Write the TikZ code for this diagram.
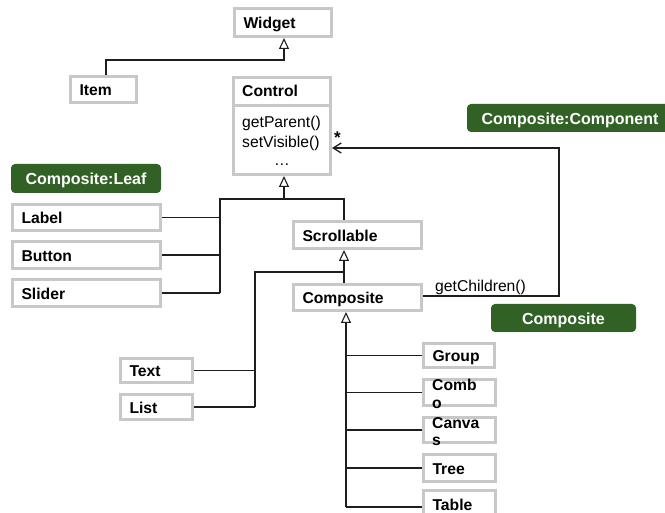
\documentclass[tikz,border=0pt]{standalone}
\usepackage{fontspec}
\setmainfont{Liberation Sans}
\usetikzlibrary{arrows.meta}

\definecolor{boxgrey}{RGB}{200,200,200}
\definecolor{tagGreen}{RGB}{50,97,38}
\definecolor{ink}{RGB}{30,30,30}

\tikzset{
  umlbox/.style={draw=boxgrey, line width=3pt, fill=white,
    font=\bfseries\fontsize{15.7}{18}\selectfont,
    inner xsep=9pt, inner ysep=0pt, align=left,
    text height=13pt, text depth=0pt},
  boxtext/.style={font=\bfseries\fontsize{15.7}{17.5}\selectfont,
    inner sep=0pt, align=left},
  plain/.style={font=\fontsize{15.7}{18}\selectfont, inner sep=0pt},
  tag/.style={fill=tagGreen, rounded corners=4pt, text=white,
    font=\bfseries\fontsize{16}{18}\selectfont,
    text height=13pt, text depth=0pt, inner sep=0pt},
  wire/.style={draw=ink, line width=1.3pt},
  gen/.style={wire, -{Triangle[open, length=11pt, width=10pt, line width=1.1pt]}},
  nav/.style={wire, -{Straight Barb[length=8pt, width=10pt]}},
}

% class box given by its outer corners (x1,y1) (x2,y2), y counted downwards
\newcommand\classbox[6]{%
  \pgfmathsetmacro\cbW{#4-#2-3}%
  \pgfmathsetmacro\cbH{#5-#3-3}%
  \pgfmathsetmacro\cbT{\cbW-18}%
  \node[umlbox, minimum width=\cbW pt, minimum height=\cbH pt, text width=\cbT pt]
    (#1) at ({(#2+#4)/2},{(#3+#5)/2}) {#6};}

\begin{document}
\begin{tikzpicture}[x=1pt, y=-1pt]
  \useasboundingbox (0,0) rectangle (665,513);
  \clip (0,0) rectangle (665,513);
  \fill[white] (0,0) rectangle (665,513);

  % classes
  \classbox{widget}{233}{7}{333}{38}{Widget}
  \classbox{item}{69}{75}{138}{104}{Item}
  \classbox{control}{232}{76}{332}{176}{}
  \classbox{label}{11}{203}{162}{232}{Label}
  \classbox{button}{11}{240}{162}{270}{Button}
  \classbox{slider}{11}{278}{162}{308}{Slider}
  \classbox{scrollable}{292}{220}{423}{250}{Scrollable}
  \classbox{composite}{292}{283}{423}{312}{Composite}
  \classbox{textbox}{119}{357}{194}{384}{Text}
  \classbox{list}{119}{393}{194}{421}{List}
  \classbox{group}{422}{342}{496}{369}{Group}
  \classbox{combo}{422}{378}{497}{407}{}
  \classbox{canvas}{422}{416}{497}{444}{}
  \classbox{tree}{422}{453}{497}{483}{Tree}
  \classbox{table}{422}{489}{497}{519}{Table}

  % Control: name compartment and operation compartment
  \coordinate (ctrlDiv) at (0,106);
  \draw[draw=boxgrey, line width=3pt] (control.west |- ctrlDiv) -- (control.east |- ctrlDiv);
  \node[boxtext, anchor=base west] (ctrlName) at (242,97) {Control};
  \node[plain, anchor=base west] (ctrlOpA) at (242,128) {getParent()};
  \node[plain, anchor=base west] (ctrlOpB) at (242,148) {setVisible()};
  \node[plain, anchor=base] (ctrlOpC) at (282,166) {…};

  % names that wrap past their boxes
  \node[boxtext, anchor=north west] (comboText) at (432,379) {Comb\\o};
  \node[boxtext, anchor=north west] (canvasText) at (432,417) {Canva\\s};

  % pattern role tags
  \node[tag, minimum width=150pt, minimum height=29pt] (leafTag) at (86,178.5) {Composite:Leaf};
  \node[tag, minimum width=206pt, minimum height=28pt] (componentTag) at (570,118) {Composite:Component};
  \node[tag, minimum width=145pt, minimum height=28pt] (compositeTag) at (563.5,318) {Composite};

  % Item -> Widget
  \coordinate (itemUp) at (106,60);
  \coordinate (widgetDown) at (284,60);
  \draw[gen] (itemUp |- item.north) -- (itemUp) -- (widgetDown) -- (widget.south -| widgetDown);

  % subclasses of Control
  \coordinate (busTL) at (220,199);
  \coordinate (busTM) at (284,199);
  \coordinate (busTR) at (344,199);
  \draw[wire] (busTL |- slider.east) -- (busTL) -- (busTR) -- (busTR |- scrollable.north);
  \draw[gen] (busTM) -- (control.south -| busTM);
  \draw[wire] (label.east) -- (label.east -| busTL);
  \draw[wire] (button.east) -- (button.east -| busTL);
  \draw[wire] (slider.east) -- (slider.east -| busTL);

  % subclasses of Scrollable
  \coordinate (sbL) at (255,272);
  \coordinate (sbR) at (344,272);
  \draw[wire] (sbL |- list.east) -- (sbL) -- (sbR) -- (sbR |- composite.north);
  \draw[gen] (sbR) -- (sbR |- scrollable.south);
  \draw[wire] (textbox.east) -- (textbox.east -| sbL);
  \draw[wire] (list.east) -- (list.east -| sbL);

  % subclasses of Composite
  \coordinate (cbB) at (346,507);
  \draw[gen] (cbB) -- (cbB |- composite.south);
  \draw[wire] (cbB |- group.west) -- (group.west);
  \draw[wire] (cbB |- combo.west) -- (combo.west);
  \draw[wire] (cbB |- canvas.west) -- (canvas.west);
  \draw[wire] (cbB |- tree.west) -- (tree.west);
  \draw[wire] (cbB) -- (cbB -| table.west);

  % Composite holds many Controls
  \coordinate (navC) at (559,296);
  \coordinate (navT) at (559,148);
  \draw[nav] (composite.east |- navC) -- (navC) -- (navT) -- (control.east |- navT);
  \node[plain, anchor=base west] (childrenLbl) at (435,292) {getChildren()};
  \node[plain, font=\bfseries\fontsize{17}{18}\selectfont, anchor=base west] (multStar) at (334,144) {*};
\end{tikzpicture}
\end{document}
